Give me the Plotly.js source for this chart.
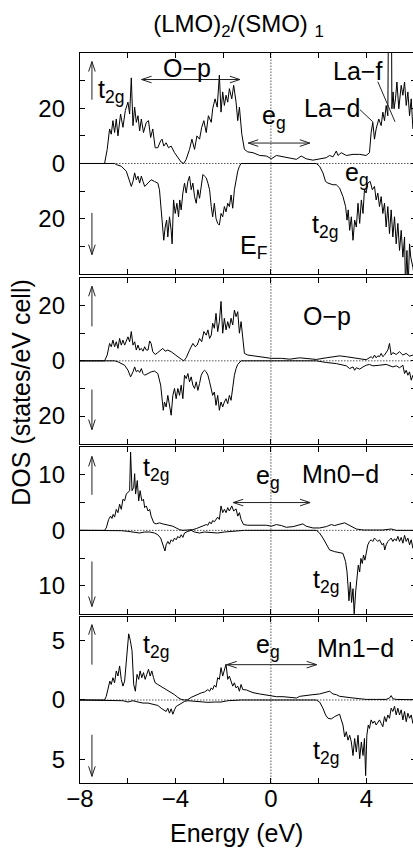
<!DOCTYPE html>
<html><head><meta charset="utf-8">
<script src="https://cdn.plot.ly/plotly-3.0.1.min.js"></script>
<style>html,body{margin:0;padding:0;background:#fff;overflow:hidden;width:413px;height:848px}#chart{width:416px;height:848px}</style>
</head><body><div id="chart"></div>
<script>
// ---------- data (energy in eV, DOS in states/eV cell; spin-down stored negative) ----------
const p1UpE = [-8,-6.97,-6.86,-6.76,-6.69,-6.62,-6.55,-6.48,-6.41,-6.30,
-6.20,-6.10,-5.99,-5.92,-5.85,-5.78,-5.71,-5.64,-5.57,-5.50,
-5.43,-5.34,-5.22,-5.13,-5.04,-4.95,-4.85,-4.74,-4.62,-4.56,
-4.49,-4.39,-4.29,-4.18,-4.04,-3.90,-3.76,-3.65,-3.55,-3.41,
-3.31,-3.20,-3.10,-2.99,-2.90,-2.81,-2.71,-2.62,-2.50,-2.44,
-2.34,-2.25,-2.16,-2.09,-2.02,-1.95,-1.88,-1.81,-1.74,-1.64,
-1.56,-1.46,-1.39,-1.32,-1.22,-1.11,-0.97,-0.75,-0.47,-0.19,
0.02,0.23,0.51,0.79,1.07,1.27,1.48,1.76,2.04,2.32,
2.46,2.60,2.74,2.81,2.95,3.16,3.44,3.72,3.99,4.13,
4.20,4.27,4.34,4.41,4.52,4.62,4.69,4.76,4.83,4.90,
4.93,5.05,5.07,5.12,5.16,5.22,5.28,5.36,5.46,5.53,
5.60,5.67,5.74,5.81,5.88,5.95];
const p1Up = [0,0,5.1,12.5,10.6,15.5,11.2,16.1,10.0,17.9,
13.1,19.2,22.2,17.9,31.0,13.7,20.4,14.9,17.3,11.8,
16.1,11.2,14.9,15.5,9.4,12.5,5.7,5.7,8.2,8.8,
6.3,7.5,5.7,6.3,3.9,2.1,0.5,0,1.5,5.1,
8.8,5.1,10.0,8.8,13.1,15.5,11.2,17.3,14.9,19.8,
23.4,20.4,32.0,18.6,25.9,21.0,24.7,22.2,27.1,23.4,
28.3,22.2,15.5,20.4,10.6,5.1,4.2,3.9,2.9,2.7,
1.7,2.9,2.4,2.1,1.5,2.7,1.7,1.2,1.7,2.1,
2.9,2.4,4.5,2.9,3.9,2.9,3.3,3.3,2.9,3.9,
11.2,14.9,8.8,12.5,16.1,13.7,18.6,15.5,21.0,17.3,
60,60,19.8,25.9,19.8,23.4,29.5,19.8,28.3,24.7,
29.5,21.0,25.9,17.3,23.4,12.5];
const p1DnE = [-8,-6.55,-6.48,-6.27,-6.06,-5.92,-5.85,-5.78,-5.71,-5.64,
-5.57,-5.50,-5.43,-5.36,-5.29,-5.15,-5.02,-4.88,-4.74,-4.67,
-4.60,-4.53,-4.49,-4.43,-4.37,-4.32,-4.25,-4.18,-4.14,-4.08,
-4.01,-3.94,-3.87,-3.82,-3.76,-3.69,-3.62,-3.55,-3.48,-3.41,
-3.34,-3.27,-3.20,-3.13,-3.06,-2.99,-2.92,-2.85,-2.78,-2.71,
-2.64,-2.57,-2.50,-2.44,-2.37,-2.30,-2.23,-2.16,-2.09,-2.02,
-1.95,-1.88,-1.81,-1.74,-1.67,-1.60,-1.53,-1.46,-1.39,-1.32,
-1.25,1.90,2.04,2.18,2.29,2.39,2.60,2.74,2.88,3.02,
3.13,3.19,3.24,3.30,3.37,3.44,3.51,3.58,3.65,3.72,
3.79,3.86,3.92,3.99,4.06,4.16,4.25,4.34,4.41,4.48,
4.55,4.62,4.69,4.76,4.83,4.90,4.97,5.04,5.11,5.18,
5.25,5.32,5.39,5.46,5.53,5.60,5.64,5.70,5.75,5.81,
5.86,5.95,6.08];
const p1Dn = [0,0,-0.4,-1.0,-2.8,-6.5,-8.3,-6.5,-3.4,-5.9,
-4.6,-7.1,-4.6,-6.5,-8.3,-7.1,-5.9,-6.5,-7.1,-9.5,
-16.8,-21.7,-27.8,-23.0,-20.5,-26.6,-19.3,-24.2,-29.1,-13.2,
-18.1,-14.4,-19.3,-13.2,-16.8,-10.7,-7.1,-10.7,-6.5,-4.6,
-9.5,-7.1,-12.0,-14.4,-9.5,-12.6,-7.1,-4.0,-4.6,-5.2,
-7.1,-9.5,-15.6,-19.3,-14.4,-19.9,-21.7,-22.3,-18.1,-19.3,
-15.6,-17.5,-14.4,-15.6,-11.4,-16.2,-9.5,-5.9,-2.8,-1.0,
0,0,-1.0,-3.4,-6.5,-7.1,-7.7,-7.7,-8.9,-12.0,
-15.6,-20.5,-16.8,-24.2,-19.3,-27.8,-20.5,-23.0,-14.4,-21.7,
-13.2,-18.1,-9.5,-10.7,-7.1,-6.5,-9.5,-8.3,-13.2,-10.7,
-15.6,-12.0,-18.1,-14.4,-23.0,-15.6,-25.4,-16.8,-26.6,-19.3,
-29.1,-21.7,-31.5,-24.2,-33.9,-26.6,-45,-31.5,-45,-29.1,
-33.9,-37.6,-45];

const p2UpE = [-8.00,-6.97,-6.86,-6.76,-6.69,-6.62,-6.55,-6.48,-6.41,-6.34,
-6.27,-6.20,-6.13,-6.06,-5.99,-5.92,-5.85,-5.78,-5.71,-5.64,
-5.57,-5.50,-5.43,-5.36,-5.29,-5.22,-5.15,-5.08,-5.02,-4.95,
-4.85,-4.74,-4.62,-4.53,-4.43,-4.32,-4.18,-4.04,-3.90,-3.76,
-3.65,-3.55,-3.41,-3.27,-3.17,-3.09,-2.99,-2.90,-2.81,-2.71,
-2.64,-2.57,-2.50,-2.44,-2.37,-2.30,-2.23,-2.16,-2.09,-2.02,
-1.95,-1.88,-1.81,-1.74,-1.67,-1.60,-1.53,-1.46,-1.39,-1.32,
-1.25,-1.18,-1.11,-0.97,-0.75,-0.47,-0.19,0.02,0.44,0.79,
1.21,1.48,1.90,2.32,2.60,2.88,3.16,3.44,3.72,3.99,
4.20,4.27,4.34,4.41,4.48,4.55,4.62,4.69,4.76,4.90,
4.97,5.04,5.11,5.25,5.39,5.53,5.67,5.81,5.95,6.08];
const p2Up = [0,0,2.1,6.3,5.1,7.5,5.1,6.9,4.5,8.1,
5.7,7.5,5.7,6.9,8.7,6.9,10.6,5.7,6.9,3.9,
5.7,3.9,4.5,3.5,5.1,3.9,3.9,7.2,6.3,3.3,
2.3,3.0,3.9,4.5,3.5,3.9,3.3,2.3,1.5,0.6,
0,1.1,3.9,6.3,5.1,5.7,8.1,6.9,10.6,9.3,
11.2,8.1,9.3,13.6,11.8,17.2,10.6,14.2,21.5,10.0,
15.4,11.2,14.2,11.8,15.4,13.0,18.4,16.0,17.8,10.0,
14.2,6.9,2.7,2.1,1.8,1.5,1.1,0.9,0.9,0.6,
1.1,0.9,0.5,1.1,1.5,1.8,1.5,1.1,0.6,0.4,
1.5,0.9,2.1,1.1,1.8,1.5,2.7,1.5,2.1,3.9,
6.3,2.1,3.0,2.3,3.3,2.1,2.7,1.7,2.1,2.4];
const p2DnE = [-8.00,-6.55,-6.41,-6.13,-5.99,-5.88,-5.78,-5.71,-5.64,-5.57,
-5.50,-5.43,-5.36,-5.29,-5.15,-5.02,-4.88,-4.74,-4.62,-4.57,
-4.51,-4.46,-4.39,-4.32,-4.25,-4.18,-4.11,-4.04,-3.97,-3.90,
-3.83,-3.76,-3.69,-3.62,-3.55,-3.48,-3.41,-3.34,-3.27,-3.20,
-3.13,-3.06,-2.99,-2.92,-2.85,-2.78,-2.71,-2.64,-2.57,-2.50,
-2.44,-2.37,-2.30,-2.23,-2.16,-2.09,-2.02,-1.95,-1.88,-1.81,
-1.74,-1.67,-1.60,-1.53,-1.46,-1.39,-1.25,1.90,2.32,2.74,
3.16,3.30,3.44,3.51,3.58,3.72,3.86,3.99,4.13,4.27,
4.55,4.83,5.11,5.25,5.39,5.53,5.60,5.67,5.74,5.81,
5.88,5.95,6.08];
const p2Dn = [0,0,-0.35,-1.6,-3.4,-5.8,-4.0,-2.2,-4.0,-3.4,
-4.2,-2.8,-4.6,-5.2,-4.6,-4.0,-3.7,-4.6,-8.8,-13.7,
-17.9,-14.9,-16.7,-12.5,-16.1,-19.7,-12.5,-10.0,-13.7,-10.0,
-12.5,-8.8,-13.7,-5.2,-6.4,-4.6,-7.6,-5.8,-8.8,-10.0,
-7.6,-10.7,-8.2,-5.2,-4.0,-3.4,-4.0,-5.2,-7.6,-10.7,
-12.5,-11.3,-16.1,-12.5,-17.9,-14.9,-16.7,-14.9,-13.7,-15.5,
-12.5,-14.3,-8.8,-5.2,-2.8,-1.3,0,0,-0.6,-1.0,
-1.8,-2.8,-2.2,-3.4,-2.5,-3.0,-2.2,-1.6,-1.3,-1.8,
-1.6,-1.3,-2.2,-1.8,-2.5,-1.6,-4.6,-3.4,-5.2,-4.0,
-7.0,-5.2,-6.0];

const p3UpE = [-8.00,-6.97,-6.90,-6.80,-6.72,-6.66,-6.61,-6.55,-6.48,-6.41,
-6.34,-6.27,-6.20,-6.13,-6.06,-5.99,-5.92,-5.88,-5.82,-5.75,
-5.71,-5.67,-5.60,-5.54,-5.48,-5.41,-5.34,-5.29,-5.22,-5.15,
-5.08,-5.02,-4.91,-4.81,-4.67,-4.53,-4.39,-4.25,-4.11,-3.97,
-3.83,-3.69,-3.55,-3.41,-3.27,-3.13,-2.99,-2.85,-2.71,-2.64,
-2.57,-2.50,-2.44,-2.37,-2.30,-2.23,-2.16,-2.09,-2.02,-1.95,
-1.88,-1.81,-1.74,-1.64,-1.56,-1.46,-1.39,-1.32,-1.25,-1.15,
-0.97,-0.75,-0.47,-0.19,0.02,0.23,0.44,0.65,0.93,1.21,
1.34,1.48,1.76,2.04,2.32,2.53,2.67,2.81,2.95,3.09,
3.23,3.37,3.58,3.86,4.27,4.69,5.04,5.25,6.08];
const p3Up = [0,0,0.43,1.96,2.56,2.14,2.87,2.38,3.78,3.18,
4.70,3.78,5.61,5.31,6.53,6.83,7.14,14.1,7.14,7.75,
10.2,6.53,8.96,5.31,7.14,5.31,5.61,4.09,4.39,3.48,
3.78,2.56,1.35,1.16,1.35,1.16,1.04,0.86,0.74,0.43,
0.13,0,0,0,0.13,0.31,0.55,0.74,1.04,0.92,
1.53,1.16,1.77,1.53,1.96,2.38,1.96,4.39,3.18,3.78,
3.18,4.09,3.48,4.39,3.48,3.86,2.56,3.18,1.96,1.04,
0.92,0.92,0.86,0.92,0.74,1.04,0.86,0.55,0.67,1.04,
1.16,0.74,0.43,0.43,0.67,1.04,0.86,1.04,1.22,1.35,
1.04,0.74,0.24,0.06,0,0.06,0.24,0,0];
const p3DnE = [-8.00,-6.55,-6.27,-5.99,-5.71,-5.50,-5.29,-5.08,-4.88,-4.74,
-4.62,-4.57,-4.50,-4.44,-4.39,-4.32,-4.25,-4.18,-4.11,-4.04,
-3.97,-3.90,-3.83,-3.76,-3.69,-3.62,-3.48,-3.34,-3.20,-2.99,
-2.78,-2.50,-2.23,-1.95,-1.67,-1.39,-1.11,1.90,2.04,2.18,
2.32,2.46,2.67,2.88,3.02,3.13,3.19,3.23,3.27,3.33,
3.38,3.44,3.49,3.55,3.60,3.66,3.72,3.77,3.83,3.88,
3.94,3.99,4.06,4.13,4.20,4.27,4.34,4.41,4.48,4.55,
4.66,4.72,4.77,4.83,4.90,4.97,5.04,5.11,5.18,5.25,
5.32,5.39,5.46,5.53,5.60,5.67,5.74,5.81,5.88,5.95,6.08];
const p3Dn = [0,0,-0.06,-0.18,-0.30,-0.48,-0.30,-0.30,-0.48,-0.79,
-1.39,-2.0,-2.92,-3.71,-2.61,-2.0,-2.49,-1.70,-2.0,-1.39,
-1.70,-1.09,-1.39,-0.79,-1.27,-0.48,-0.18,0,-0.30,-0.48,
-0.30,-0.36,-0.48,-0.30,-0.18,-0.06,0,0,-0.48,-1.39,
-2.61,-3.53,-3.83,-3.95,-4.14,-5.66,-7.49,-9.93,-12.67,-9.32,
-12.97,-10.5,-15.1,-11.1,-8.7,-6.27,-7.49,-5.05,-5.97,-4.44,
-5.36,-3.83,-2.61,-2.0,-1.70,-2.0,-1.39,-1.70,-2.0,-1.70,
-2.61,-2.31,-3.53,-2.61,-2.0,-1.70,-1.39,-2.0,-1.51,-1.88,
-1.09,-2.0,-1.27,-2.31,-0.91,-2.0,-1.39,-2.61,-1.70,-3.22,-2.2];

const p4UpE = [-8.00,-6.97,-6.90,-6.80,-6.75,-6.69,-6.62,-6.55,-6.48,-6.41,
-6.34,-6.27,-6.20,-6.13,-6.06,-6.02,-5.96,-5.89,-5.82,-5.75,
-5.68,-5.61,-5.54,-5.48,-5.41,-5.34,-5.27,-5.20,-5.13,-5.06,
-4.99,-4.92,-4.85,-4.74,-4.62,-4.53,-4.43,-4.32,-4.18,-4.04,
-3.90,-3.76,-3.62,-3.48,-3.34,-3.20,-3.06,-2.92,-2.78,-2.64,
-2.57,-2.50,-2.44,-2.37,-2.30,-2.23,-2.16,-2.09,-2.02,-1.95,
-1.88,-1.81,-1.74,-1.67,-1.60,-1.53,-1.46,-1.39,-1.32,-1.25,
-1.18,-1.03,-0.75,-0.47,-0.19,0.02,0.23,0.51,0.79,1.07,
1.21,1.48,1.76,2.04,2.32,2.46,2.60,2.74,2.88,3.16,
3.44,3.72,3.99,4.41,4.83,4.97,5.04,5.11,5.25,6.08];
const p4Up = [0,0,0.31,1.17,1.59,1.31,1.88,1.45,2.45,2.02,
2.87,1.74,1.17,1.59,3.16,4.44,5.58,5.01,4.16,1.31,
0.74,2.16,1.74,2.45,1.88,2.31,1.74,2.16,2.59,2.02,
2.45,1.88,1.45,1.31,1.17,1.02,0.88,0.79,0.60,0.45,
0.22,0.05,0,0.03,0.22,0.37,0.45,0.60,0.68,0.88,
0.74,1.02,0.88,1.25,1.08,1.88,1.74,2.73,2.02,2.45,
3.02,1.74,2.02,1.59,1.17,1.45,1.02,1.17,0.74,1.31,
0.88,0.85,0.62,0.51,0.40,0.34,0.28,0.28,0.22,0.17,
0.31,0.40,0.45,0.51,0.65,0.74,0.51,0.45,0.31,0.22,
0.17,0.11,0.05,0.05,0.05,0.17,0.37,0.11,0.05,0.02];
const p4DnE = [-8.00,-6.41,-6.20,-5.99,-5.78,-5.57,-5.36,-5.15,-4.95,-4.74,
-4.60,-4.49,-4.39,-4.32,-4.25,-4.18,-4.11,-4.04,-3.97,-3.90,
-3.76,-3.62,-3.48,-3.20,-2.92,-2.64,-2.37,-2.09,-1.81,-1.53,
-1.25,1.90,2.04,2.18,2.29,2.39,2.53,2.67,2.81,2.88,
2.95,3.02,3.09,3.16,3.23,3.30,3.37,3.44,3.51,3.58,
3.65,3.72,3.79,3.86,3.92,3.97,4.02,4.08,4.13,4.20,
4.27,4.34,4.41,4.48,4.55,4.62,4.69,4.76,4.83,4.90,
4.97,5.04,5.11,5.18,5.25,5.32,5.39,5.46,5.53,5.60,
5.67,5.74,5.81,5.88,5.95,6.08];
const p4Dn = [0,0,-0.06,-0.17,-0.06,-0.17,-0.26,-0.26,-0.34,-0.46,
-0.69,-0.83,-0.97,-0.69,-1.11,-0.74,-1.20,-0.83,-0.54,-0.46,
-0.26,-0.12,-0.06,-0.12,-0.17,-0.20,-0.17,-0.17,-0.06,-0.03,
0,0,-0.17,-0.69,-1.26,-1.54,-1.60,-1.40,-1.26,-1.20,
-1.68,-2.11,-3.11,-2.68,-3.39,-2.97,-3.54,-4.68,-3.25,-4.39,
-2.97,-4.96,-3.54,-4.68,-3.25,-6.38,-2.97,-2.11,-2.40,-1.68,
-1.97,-1.77,-2.11,-1.88,-1.68,-1.97,-2.25,-1.40,-1.83,-1.26,
-1.54,-0.69,-0.97,-0.54,-1.26,-0.69,-1.26,-0.83,-1.68,-0.97,
-1.83,-1.11,-1.54,-1.26,-1.97,-1.4];

// tick labels (major, labelled) and unlabelled minor tick positions
const xTickVals = [-8,-4,0,4];
const xTickText = ['\u22128','\u22124','0','4'];
const xMinorVals = [-6,-2,2,6];
const p1TickVals = [-20,0,20];   const p1TickText = ['20','0','20']; const p1MinorVals = [-30,-10,10,30];
const p2TickVals = [-20,0,20];   const p2TickText = ['20','0','20']; const p2MinorVals = [-10,10];
const p3TickVals = [-10,0,10];   const p3TickText = ['10','0','10']; const p3MinorVals = [-5,5];
const p4TickVals = [-5,0,5];     const p4TickText = ['5','0','5'];    const p4MinorVals = [];

// ---------- layout ----------
const FONT = 'Liberation Sans, Arial, Helvetica, sans-serif';
const W = 416, H = 848, M = {l:80, r:0, t:53, b:65};   // right frame edge falls just outside the 413px view
const xRange = [-8, 6.08];
const panels = [
  {upE:p1UpE, up:p1Up, dnE:p1DnE, dn:p1Dn, dom:[0.6973,1],      range:[-40,40], tv:p1TickVals, tt:p1TickText, mv:p1MinorVals},
  {upE:p2UpE, up:p2Up, dnE:p2DnE, dn:p2Dn, dom:[0.4648,0.6918], range:[-30,30], tv:p2TickVals, tt:p2TickText, mv:p2MinorVals},
  {upE:p3UpE, up:p3Up, dnE:p3DnE, dn:p3Dn, dom:[0.2319,0.4603], range:[-15,15], tv:p3TickVals, tt:p3TickText, mv:p3MinorVals},
  {upE:p4UpE, up:p4Up, dnE:p4DnE, dn:p4Dn, dom:[0,0.2274],      range:[-7,7],   tv:p4TickVals, tt:p4TickText, mv:p4MinorVals}
];
const suf = k => k === 0 ? '' : String(k + 1);
const plotW = W - M.l - M.r, plotH = H - M.t - M.b;
const pxPerE = plotW / (xRange[1] - xRange[0]);
const pxPerV = k => (panels[k].dom[1] - panels[k].dom[0]) * plotH / (panels[k].range[1] - panels[k].range[0]);

const traces = [];
const layout = {
  width: W, height: H, margin: M, showlegend: false,
  paper_bgcolor: '#fff', plot_bgcolor: '#fff',
  font: {family: FONT, color: '#000', size: 24},
  title: {text: '(LMO)<sub>2</sub>/(SMO) <sub>1</sub>', font: {family: FONT, size: 24, color: '#000'},
          x: 238.5 / W, xref: 'container', xanchor: 'center', y: 1 - 15 / H, yref: 'container', yanchor: 'top'},
  shapes: [], annotations: []
};

panels.forEach((p, k) => {
  const s = suf(k);
  const line = {color: '#000', width: 1};
  traces.push({x: p.upE, y: p.up, xaxis: 'x' + s, yaxis: 'y' + s, mode: 'lines', line, hoverinfo: 'skip'});
  traces.push({x: p.dnE, y: p.dn, xaxis: 'x' + s, yaxis: 'y' + s, mode: 'lines', line, hoverinfo: 'skip'});
  const common = {ticks: 'inside', ticklen: 5, tickwidth: 1, tickcolor: '#000', mirror: 'ticks', showline: true,
    linecolor: '#000', linewidth: 1.2, showgrid: false, zeroline: false, fixedrange: true,
    tickfont: {family: FONT, size: 24, color: '#000'}};
  const minor = vals => ({tickmode: 'array', tickvals: vals, ticks: 'inside', ticklen: 5, tickwidth: 1, tickcolor: '#000', showgrid: false});
  layout['xaxis' + s] = Object.assign({}, common, {domain: [0, 1], range: xRange, anchor: 'y' + s,
    tickmode: 'array', tickvals: xTickVals, ticktext: xTickText, showticklabels: k === 3, ticklabelstandoff: -6,
    minor: minor(xMinorVals)});
  const ya = Object.assign({}, common, {domain: p.dom, range: p.range, anchor: 'x' + s,
    tickmode: 'array', tickvals: p.tv, ticktext: p.tt, ticklabelstandoff: 9});
  if (p.mv.length) ya.minor = minor(p.mv);
  layout['yaxis' + s] = ya;
  const dot = {color: '#555', width: 1, dash: '1.5px,1.5px'};
  layout.shapes.push({type: 'line', xref: 'x' + s, yref: 'y' + s, x0: xRange[0], x1: xRange[1], y0: 0, y1: 0, line: dot, layer: 'below'});
  layout.shapes.push({type: 'line', xref: 'x' + s, yref: 'y' + s, x0: 0, x1: 0, y0: p.range[0], y1: p.range[1], line: dot, layer: 'below'});
});

// arrows (positions in data units), heads computed in pixel space
const arrows = [
  {k:0, x0:-7.50, y0:23.1,  x1:-7.50, y1:36.9},
  {k:0, x0:-7.50, y0:-17.9, x1:-7.50, y1:-33.0},
  {k:0, x0:-5.42, y0:30.4,  x1:-1.30, y1:30.4, both:true},
  {k:0, x0:-0.95, y0:7.4,   x1:1.63,  y1:7.4,  both:true},
  {k:1, x0:-7.50, y0:12.5,  x1:-7.50, y1:27.0},
  {k:1, x0:-7.50, y0:-10.4, x1:-7.50, y1:-24.9},
  {k:2, x0:-7.50, y0:6.4,   x1:-7.50, y1:13.3},
  {k:2, x0:-7.50, y0:-5.6,  x1:-7.50, y1:-13.7},
  {k:2, x0:-1.58, y0:5.0,   x1:1.64,  y1:5.0,  both:true},
  {k:3, x0:-7.50, y0:2.98,  x1:-7.50, y1:6.35},
  {k:3, x0:-7.50, y0:-2.93, x1:-7.50, y1:-6.44},
  {k:3, x0:-1.85, y0:2.98,  x1:1.92,  y1:2.98, both:true},
  {k:0, x0:4.48, y0:29.6, x1:5.20, y1:15.1, nohead:true},
  {k:0, x0:3.73, y0:19.5, x1:4.27, y1:15.1, nohead:true}
];
function headPath(k, tx, ty, fx, fy) {
  const sx = pxPerE, sy = pxPerV(k);
  const dx = (tx - fx) * sx, dy = (ty - fy) * sy, len = Math.hypot(dx, dy);
  const ux = dx / len, uy = dy / len, L = 10, w = 3.3;
  const ax = tx + (-L * ux - w * uy) / sx, ay = ty + (-L * uy + w * ux) / sy;
  const bx = tx + (-L * ux + w * uy) / sx, by = ty + (-L * uy - w * ux) / sy;
  return ` M ${ax},${ay} L ${tx},${ty} L ${bx},${by}`;
}
arrows.forEach(a => {
  let path = `M ${a.x0},${a.y0} L ${a.x1},${a.y1}`;
  if (!a.nohead) path += headPath(a.k, a.x1, a.y1, a.x0, a.y0);
  if (a.both) path += headPath(a.k, a.x0, a.y0, a.x1, a.y1);
  layout.shapes.push({type: 'path', xref: 'x' + suf(a.k), yref: 'y' + suf(a.k), path, line: {color: '#222', width: 1}});
});

// in-plot labels
const labels = [
  {k:0, x:-7.29, y:26.4,  t:'t<sub>2g</sub>'},
  {k:0, x:-3.53, y:34.7,  t:'O\u2212p', xa:'center'},
  {k:0, x:-0.42, y:16.9,  t:'e<sub>g</sub>'},
  {k:0, x:2.54,  y:33.5,  t:'La\u2212f'},
  {k:0, x:1.36,  y:20.1,  t:'La\u2212d'},
  {k:0, x:3.06,  y:-3.8,  t:'e<sub>g</sub>'},
  {k:0, x:1.70,  y:-22.6, t:'t<sub>2g</sub>'},
  {k:0, x:-1.34, y:-30.2, t:'E<sub>F</sub>'},
  {k:1, x:2.37,  y:16.2,  t:'O\u2212p', xa:'center'},
  {k:2, x:-5.40, y:11.0,  t:'t<sub>2g</sub>'},
  {k:2, x:-0.67, y:9.6,   t:'e<sub>g</sub>'},
  {k:2, x:1.27,  y:10.1,  t:'Mn0\u2212d'},
  {k:2, x:1.72,  y:-9.1,  t:'t<sub>2g</sub>'},
  {k:3, x:-5.40, y:4.58,  t:'t<sub>2g</sub>'},
  {k:3, x:-0.67, y:4.55,  t:'e<sub>g</sub>'},
  {k:3, x:1.90,  y:4.38,  t:'Mn1\u2212d'},
  {k:3, x:1.72,  y:-4.39, t:'t<sub>2g</sub>'}
];
labels.forEach(l => layout.annotations.push({xref: 'x' + suf(l.k), yref: 'y' + suf(l.k), x: l.x, y: l.y, text: l.t,
  showarrow: false, xanchor: l.xa || 'left', yanchor: 'middle', borderpad: 0, font: {family: FONT, size: 25, color: '#000'}}));

// axis titles
layout.annotations.push({xref: 'paper', yref: 'paper', x: (236.7 - M.l) / plotW, y: -0.0681, text: 'Energy (eV)', showarrow: false,
  xanchor: 'center', yanchor: 'middle', borderpad: 0, font: {family: FONT, size: 25, color: '#000'}});
layout.annotations.push({xref: 'paper', yref: 'paper', x: (21.5 - M.l) / plotW, y: 0.534, text: 'DOS (states/eV cell)', showarrow: false,
  textangle: -90, xanchor: 'center', yanchor: 'middle', borderpad: 0, font: {family: FONT, size: 25, color: '#000'}});

Plotly.newPlot('chart', traces, layout, {staticPlot: true, displayModeBar: false});
</script>
</body></html>
